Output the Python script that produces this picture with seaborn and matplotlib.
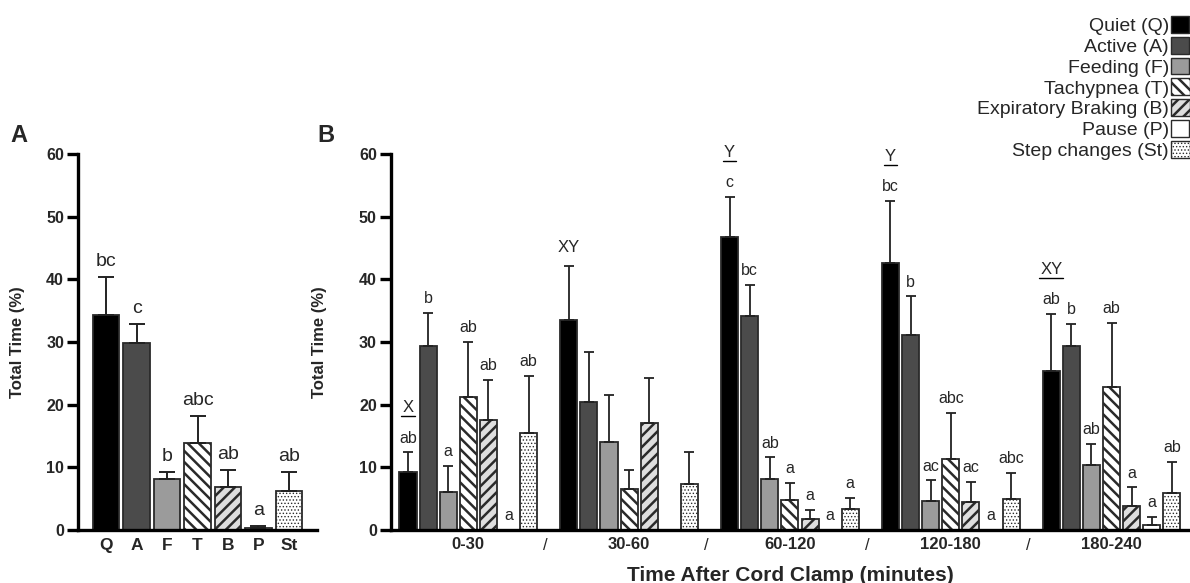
import numpy as np
import pandas as pd
import matplotlib
matplotlib.use("Agg")
import matplotlib.pyplot as plt
import seaborn as sns
from matplotlib import font_manager
from matplotlib.patches import Patch
from matplotlib.lines import Line2D

# ---------------- data ----------------
behaviors = ["Quiet (Q)", "Active (A)", "Feeding (F)", "Tachypnea (T)",
             "Expiratory Braking (B)", "Pause (P)", "Step changes (St)"]
codes = ["Q", "A", "F", "T", "B", "P", "St"]

# Panel A (overall)
a_mean = [34.3, 29.8, 8.1, 13.9, 6.9, 0.3, 6.2]
a_err = [6.0, 3.0, 1.2, 4.3, 2.6, 0.3, 3.1]
a_letters = ["bc", "c", "b", "abc", "ab", "a", "ab"]

# Panel B (per time window)
groups = ["0-30", "30-60", "60-120", "120-180", "180-240"]
b_mean = {
    "Q": [9.3, 33.5, 46.8, 42.6, 25.4],
    "A": [29.4, 20.4, 34.2, 31.1, 29.4],
    "F": [6.0, 14.1, 8.2, 4.6, 10.3],
    "T": [21.3, 6.5, 4.8, 11.4, 22.8],
    "B": [17.5, 17.1, 1.8, 4.4, 3.9],
    "P": [0.0, 0.0, 0.0, 0.0, 0.85],
    "St": [15.5, 7.4, 3.4, 5.0, 5.9],
}
b_err = {
    "Q": [3.1, 8.7, 6.4, 9.9, 9.1],
    "A": [5.3, 8.0, 4.9, 6.2, 3.5],
    "F": [4.2, 7.5, 3.4, 3.3, 3.4],
    "T": [8.7, 3.0, 2.7, 7.3, 10.2],
    "B": [6.5, 7.2, 1.4, 3.3, 2.9],
    "P": [0.0, 0.0, 0.0, 0.0, 1.25],
    "St": [9.1, 5.0, 1.7, 4.1, 5.0],
}
b_letters = {
    "Q": ["ab", "", "c", "bc", "ab"],
    "A": ["b", "", "bc", "b", "b"],
    "F": ["a", "", "ab", "ac", "ab"],
    "T": ["ab", "", "a", "abc", "ab"],
    "B": ["ab", "", "a", "ac", "a"],
    "P": ["a", "", "a", "a", "a"],
    "St": ["ab", "", "a", "abc", "ab"],
}
group_letters = ["X", "XY", "Y", "Y", "XY"]
group_underline = [True, False, True, True, True]

# ---------------- style ----------------
fill = {"Q": "#000000", "A": "#4b4b4b", "F": "#9b9b9b", "T": "#ffffff",
        "B": "#dedede", "P": "#ffffff", "St": "#ffffff"}
hatch = {"T": "\\\\\\", "B": "///", "St": "....."}
edge = "#2a2a2a"

sns.set_theme(style="ticks")
plt.rcParams["font.family"] = ["Liberation Sans", "DejaVu Sans"]
plt.rcParams["hatch.linewidth"] = 1.8
plt.rcParams["hatch.color"] = "black"


def has_font(name):
    try:
        font_manager.findfont(name, fallback_to_default=False)
        return True
    except Exception:
        return False


if has_font("Liberation Sans Narrow"):
    narrow, lsize, gsize = ["Liberation Sans Narrow", "Liberation Sans"], 13, 13.5
else:
    narrow, lsize, gsize = ["Liberation Sans"], 11.5, 12

W, H = 1190, 583
fig = plt.figure(figsize=(W / 100, H / 100), dpi=100)
axA = fig.add_axes([78 / W, 53 / H, (317 - 78) / W, 376 / H])
axB = fig.add_axes([390.7 / W, 53 / H, (1190 - 390.7) / W, 376 / H])


def style_patch(p, code):
    if code in hatch:
        p.set_hatch(hatch[code])
        if hasattr(p, "set_hatch_linewidth"):
            p.set_hatch_linewidth(0.6 if code == "St" else 1.8)
    p.set_edgecolor(edge)


# ---------------- panel A ----------------
dfA = pd.DataFrame({"code": codes, "mean": a_mean})
sns.barplot(data=dfA, x="code", y="mean", hue="code", order=codes, hue_order=codes,
            palette=fill, dodge=False, width=0.88, errorbar=None, legend=False,
            edgecolor=edge, linewidth=1.3, ax=axA)
for p in axA.patches:
    c = int(round(p.get_x() + p.get_width() / 2))
    if 0 <= c < len(codes):
        style_patch(p, codes[c])
xa = np.arange(len(codes))
axA.errorbar(xa, a_mean, yerr=[np.zeros(len(codes)), a_err], fmt="none",
             ecolor="#222222", elinewidth=1.4, capsize=6, capthick=1.4, zorder=1)
for i in range(len(codes)):
    axA.annotate(a_letters[i], (xa[i], a_mean[i] + a_err[i]), xytext=(0, 8),
                 textcoords="offset points", ha="center", va="baseline", fontsize=14)
axA.set_xlim(-0.92, 6.92)
axA.set_ylim(0, 60)
axA.set_yticks([0, 10, 20, 30, 40, 50, 60])
axA.set_xlabel("")
axA.set_ylabel("Total Time (%)", fontsize=12, fontweight="bold")
axA.yaxis.set_label_coords(-(78 - 25) / 239, 0.5)
axA.tick_params(axis="x", length=0, labelsize=12.5, pad=6)
for t in axA.get_xticklabels():
    t.set_fontweight("bold")

# ---------------- panel B ----------------
rows = []
for g, grp in enumerate(groups):
    for i, c in enumerate(codes):
        rows.append({"pos": g * (len(codes) + 1) + i, "code": c, "group": grp,
                     "mean": b_mean[c][g], "err": b_err[c][g], "letter": b_letters[c][g]})
dfB = pd.DataFrame(rows)
sns.barplot(data=dfB, x="pos", y="mean", hue="code", hue_order=codes, palette=fill,
            native_scale=True, dodge=False, width=0.85, errorbar=None, legend=False,
            edgecolor=edge, linewidth=1.3, ax=axB)
pos2code = dict(zip(dfB["pos"], dfB["code"]))
for p in axB.patches:
    c = int(round(p.get_x() + p.get_width() / 2))
    if c in pos2code:
        style_patch(p, pos2code[c])
axB.errorbar(dfB["pos"], dfB["mean"], yerr=[np.zeros(len(dfB)), dfB["err"]], fmt="none",
             ecolor="#222222", elinewidth=1.3, capsize=3.8, capthick=1.3, zorder=1)
for _, r in dfB.iterrows():
    if r["letter"]:
        axB.annotate(r["letter"], (r["pos"], r["mean"] + r["err"]), xytext=(0, 7),
                     textcoords="offset points", ha="center", va="baseline",
                     fontsize=lsize, family=narrow)

ul_texts = []
for g in range(len(groups)):
    r = dfB[(dfB["group"] == groups[g]) & (dfB["code"] == "Q")].iloc[0]
    off = 32 if r["letter"] else 13
    t = axB.annotate(group_letters[g], (r["pos"], r["mean"] + r["err"]), xytext=(0, off),
                     textcoords="offset points", ha="center", va="center",
                     fontsize=gsize, family=narrow)
    if group_underline[g]:
        ul_texts.append(t)

n = len(codes) + 1
axB.set_xlim(-0.86, 38.9)
axB.set_ylim(0, 60)
axB.set_yticks([0, 10, 20, 30, 40, 50, 60])
axB.set_xticks([g * n + 3 for g in range(len(groups))])
axB.set_xticklabels(groups, fontsize=12, fontweight="bold")
axB.tick_params(axis="x", length=0, pad=5)
for g in range(len(groups) - 1):
    axB.annotate("/", (g * n + 6.85, 0), xycoords=("data", "axes fraction"),
                 xytext=(0, -11), textcoords="offset points", ha="center", va="center",
                 fontsize=12)
axB.set_xlabel("Time After Cord Clamp (minutes)", fontsize=15, fontweight="bold", labelpad=10)
axB.set_ylabel("Total Time (%)", fontsize=12, fontweight="bold")
axB.yaxis.set_label_coords(-(390.7 - 327) / 799.3, 0.5)

for ax in (axA, axB):
    sns.despine(ax=ax)
    for s in ("left", "bottom"):
        ax.spines[s].set_linewidth(2.4)
        ax.spines[s].set_color("black")
    ax.tick_params(axis="y", length=8, width=2.4, labelsize=11.5, pad=2, color="black")
    for t in ax.get_yticklabels():
        t.set_fontweight("bold")

# panel labels
fig.text(18.5 / W, 1 - 135 / H, "A", fontsize=17, fontweight="bold", ha="center", va="center")
fig.text(325.5 / W, 1 - 135.5 / H, "B", fontsize=17, fontweight="bold", ha="center", va="center")

# legend
handles = []
for c in codes:
    handles.append(Patch(facecolor=fill[c], edgecolor=edge, hatch=hatch.get(c), linewidth=1.0))
leg = fig.legend(handles, behaviors, loc="upper right", bbox_to_anchor=(1189.5 / W, 1 - 16 / H),
                 bbox_transform=fig.transFigure, frameon=False, markerfirst=False,
                 fontsize=14, labelspacing=0.09, handlelength=0.95, handleheight=0.95,
                 handletextpad=0.1, borderpad=0, borderaxespad=0)
for h, c in zip(leg.legend_handles, codes):
    if c in hatch and hasattr(h, "set_hatch_linewidth"):
        h.set_hatch_linewidth(0.6 if c == "St" else 1.8)

# underlines for group letters
fig.canvas.draw()
inv = fig.transFigure.inverted()
for t in ul_texts:
    bb = t.get_window_extent()
    (x0, y0), (x1, y1) = inv.transform([(bb.x0 - 1, bb.y0 - 1), (bb.x1 + 1, bb.y0 - 1)])
    fig.add_artist(Line2D([x0, x1], [y0, y1], transform=fig.transFigure, color="black", lw=1.0))

fig.savefig("out.png", dpi=100)
